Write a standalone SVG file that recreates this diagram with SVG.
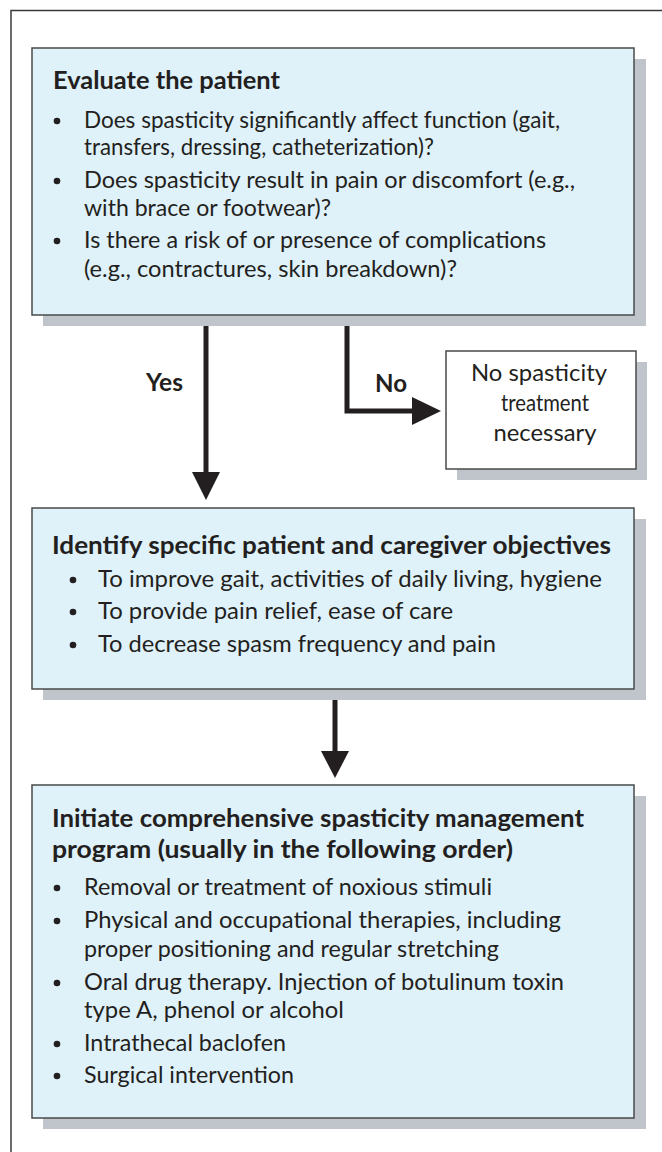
<svg xmlns="http://www.w3.org/2000/svg" width="662" height="1152" viewBox="0 0 662 1152">
<style>
.frame{fill:none;stroke:#3a3a3a;stroke-width:1.5}
.box{fill:#dff1f9;stroke:#4a4a4a;stroke-width:1.5}
.wbox{fill:#ffffff;stroke:#4a4a4a;stroke-width:1.5}
.shadow{fill:#c0c4cb}
.title{font-family:Lato,"Liberation Sans",sans-serif;font-weight:bold;font-size:25px;fill:#231f20}
.body{font-family:Lato,"Liberation Sans",sans-serif;font-size:22.5px;fill:#231f20}
.nb{font-family:Lato,"Liberation Sans",sans-serif;font-size:23px;fill:#231f20}
.lbl{font-family:Lato,"Liberation Sans",sans-serif;font-weight:bold;font-size:24px;fill:#231f20}
.dot{fill:#231f20}
.shaft{fill:none;stroke:#231f20;stroke-width:5}
.head{fill:#231f20}
</style>
<rect width="662" height="1152" fill="#ffffff"/>
<path class="frame" d="M11,1152 V10.5 H662"/>

<g id="evaluate">
<rect class="shadow" x="43" y="59" width="603" height="267"/>
<rect class="box" x="32" y="48" width="602" height="267"/>
<text class="title" x="53" y="89" textLength="227" lengthAdjust="spacingAndGlyphs">Evaluate the patient</text>
<circle class="dot" cx="57" cy="121" r="3.3"/>
<text class="body" x="84" y="128" textLength="476" lengthAdjust="spacingAndGlyphs">Does spasticity significantly affect function (gait,</text>
<text class="body" x="84" y="155" textLength="350" lengthAdjust="spacingAndGlyphs">transfers, dressing, catheterization)?</text>
<circle class="dot" cx="57" cy="181" r="3.3"/>
<text class="body" x="84" y="188" textLength="491" lengthAdjust="spacingAndGlyphs">Does spasticity result in pain or discomfort (e.g.,</text>
<text class="body" x="84" y="216" textLength="247" lengthAdjust="spacingAndGlyphs">with brace or footwear)?</text>
<circle class="dot" cx="57" cy="241" r="3.3"/>
<text class="body" x="84" y="248" textLength="462" lengthAdjust="spacingAndGlyphs">Is there a risk of or presence of complications</text>
<text class="body" x="84" y="277" textLength="373" lengthAdjust="spacingAndGlyphs">(e.g., contractures, skin breakdown)?</text>
</g>

<g id="no-treatment">
<rect class="shadow" x="457" y="362" width="190" height="118"/>
<rect class="wbox" x="446" y="351" width="190" height="118"/>
<text class="nb" x="539" y="381" text-anchor="middle" textLength="136" lengthAdjust="spacingAndGlyphs">No spasticity</text>
<text class="nb" x="545" y="411" text-anchor="middle" textLength="88" lengthAdjust="spacingAndGlyphs">treatment</text>
<text class="nb" x="545" y="441" text-anchor="middle" textLength="103" lengthAdjust="spacingAndGlyphs">necessary</text>
</g>

<g id="objectives">
<rect class="shadow" x="43" y="519" width="603" height="181"/>
<rect class="box" x="32" y="508" width="602" height="181"/>
<text class="title" x="52" y="554" textLength="559" lengthAdjust="spacingAndGlyphs">Identify specific patient and caregiver objectives</text>
<circle class="dot" cx="73" cy="580" r="3.3"/>
<text class="body" x="98" y="587" textLength="504" lengthAdjust="spacingAndGlyphs">To improve gait, activities of daily living, hygiene</text>
<circle class="dot" cx="73" cy="612" r="3.3"/>
<text class="body" x="98" y="619" textLength="355" lengthAdjust="spacingAndGlyphs">To provide pain relief, ease of care</text>
<circle class="dot" cx="73" cy="645" r="3.3"/>
<text class="body" x="98" y="652" textLength="398" lengthAdjust="spacingAndGlyphs">To decrease spasm frequency and pain</text>
</g>

<g id="program">
<rect class="shadow" x="43" y="796" width="603" height="333"/>
<rect class="box" x="32" y="785" width="602" height="333"/>
<text class="title" x="52" y="827" textLength="532" lengthAdjust="spacingAndGlyphs">Initiate comprehensive spasticity management</text>
<text class="title" x="52" y="858" textLength="461" lengthAdjust="spacingAndGlyphs">program (usually in the following order)</text>
<circle class="dot" cx="57" cy="888" r="3.3"/>
<text class="body" x="84" y="895" textLength="408" lengthAdjust="spacingAndGlyphs">Removal or treatment of noxious stimuli</text>
<circle class="dot" cx="57" cy="921" r="3.3"/>
<text class="body" x="84" y="928" textLength="477" lengthAdjust="spacingAndGlyphs">Physical and occupational therapies, including</text>
<text class="body" x="84" y="957" textLength="415" lengthAdjust="spacingAndGlyphs">proper positioning and regular stretching</text>
<circle class="dot" cx="57" cy="983" r="3.3"/>
<text class="body" x="84" y="990" textLength="480" lengthAdjust="spacingAndGlyphs">Oral drug therapy. Injection of botulinum toxin</text>
<text class="body" x="84" y="1018" textLength="260" lengthAdjust="spacingAndGlyphs">type A, phenol or alcohol</text>
<circle class="dot" cx="57" cy="1044" r="3.3"/>
<text class="body" x="84" y="1051" textLength="202" lengthAdjust="spacingAndGlyphs">Intrathecal baclofen</text>
<circle class="dot" cx="57" cy="1076" r="3.3"/>
<text class="body" x="84" y="1083" textLength="210" lengthAdjust="spacingAndGlyphs">Surgical intervention</text>
</g>

<g id="connectors">
<line class="shaft" x1="206" y1="326" x2="206" y2="473"/>
<polygon class="head" points="192,472 220,472 206,500"/>
<path class="shaft" d="M347,326 V411 H413" stroke-linejoin="miter"/>
<polygon class="head" points="412,397 412,425 441,411"/>
<text class="lbl" x="146" y="391" textLength="37" lengthAdjust="spacingAndGlyphs">Yes</text>
<text class="lbl" x="375" y="392" textLength="32" lengthAdjust="spacingAndGlyphs">No</text>
<line class="shaft" x1="335" y1="700" x2="335" y2="752"/>
<polygon class="head" points="321,751 349,751 335,778"/>
</g>
</svg>
